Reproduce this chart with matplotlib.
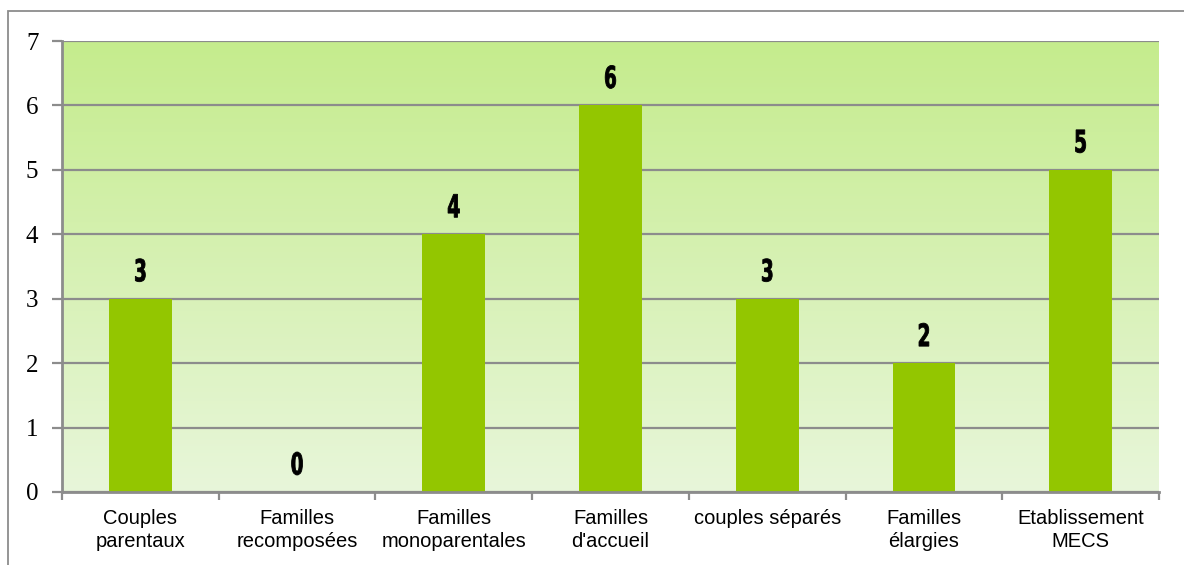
import matplotlib
matplotlib.use("Agg")
import matplotlib.pyplot as plt
import numpy as np
from matplotlib.patches import Rectangle, PathPatch
from matplotlib.colors import LinearSegmentedColormap
from matplotlib.textpath import TextPath
from matplotlib.font_manager import FontProperties
from matplotlib.transforms import Affine2D

categories = ["Couples\nparentaux", "Familles\nrecomposées", "Familles\nmonoparentales",
              "Familles\nd'accueil", "couples séparés", "Familles\nélargies", "Etablissement\nMECS"]
values = [3, 0, 4, 6, 3, 2, 5]
yticks = [0, 1, 2, 3, 4, 5, 6, 7]

fig = plt.figure(figsize=(11.84, 5.65), dpi=100)
ax = fig.add_axes([62/1184, 1-492/565, (1159-62)/1184, (492-41)/565])

n = len(categories)
x = np.arange(n)
ax.set_xlim(-0.5, n-0.5)
ax.set_ylim(0, 7)

# gradient background
cmap = LinearSegmentedColormap.from_list("g", ["#e8f6da", "#c5ec8d"])
grad = np.linspace(0, 1, 256).reshape(-1, 1)
ax.imshow(grad, aspect="auto", cmap=cmap, origin="lower",
          extent=[-0.5, n-0.5, 0, 7], zorder=0)

ax.set_yticks(yticks)
ax.yaxis.grid(True, color="#8c8c8c", linewidth=1.6, zorder=1)
ax.set_axisbelow(True)

bars = ax.bar(x, values, width=0.4, color="#93c600", zorder=2)

# condensed bold value labels (tall narrow digits)
fp = FontProperties(family="DejaVu Sans", weight="bold")
label_h_px = 23.0
for xi, v in zip(x, values):
    tp = TextPath((0, 0), str(v), size=1, prop=fp)
    ext = tp.get_extents()
    sy = label_h_px / ext.height
    sx = sy * 0.6
    cx = (ext.x0 + ext.x1) / 2
    px, py = ax.transData.transform((xi, v))
    tr = Affine2D().translate(-cx, -ext.y0).scale(sx, sy).translate(px, py + 17)
    fig.patches.append(PathPatch(tp, transform=tr, facecolor="black", edgecolor="black",
                                 linewidth=0.6, zorder=5))

ax.set_xticks(np.arange(-0.5, n, 1.0), minor=False)
ax.set_xticklabels([])
ax.set_xticks(x, minor=True)
ax.set_xticklabels(categories, minor=True, fontsize=14.5, family="Liberation Sans", linespacing=1.3)
ax.tick_params(axis="x", which="major", length=6, width=1.6, color="#8c8c8c", direction="out")
ax.tick_params(axis="x", which="minor", length=0, pad=12)
ax.tick_params(axis="y", length=7, width=1.6, color="#8c8c8c", direction="out", pad=10)
for lab in ax.get_yticklabels():
    lab.set_fontfamily("Liberation Serif")
    lab.set_fontsize(18)

for s in ["top", "right"]:
    ax.spines[s].set_visible(False)
for s in ["left", "bottom"]:
    ax.spines[s].set_color("#8c8c8c")
    ax.spines[s].set_linewidth(2)

# outer chart frame
fig.patches.append(Rectangle((8/1184, -0.1), 1.2, 1-11/565+0.1, transform=fig.transFigure,
                             fill=False, edgecolor="#8c8c8c", linewidth=1.3, clip_on=False))

fig.savefig("out.png", dpi=100, facecolor="white")
